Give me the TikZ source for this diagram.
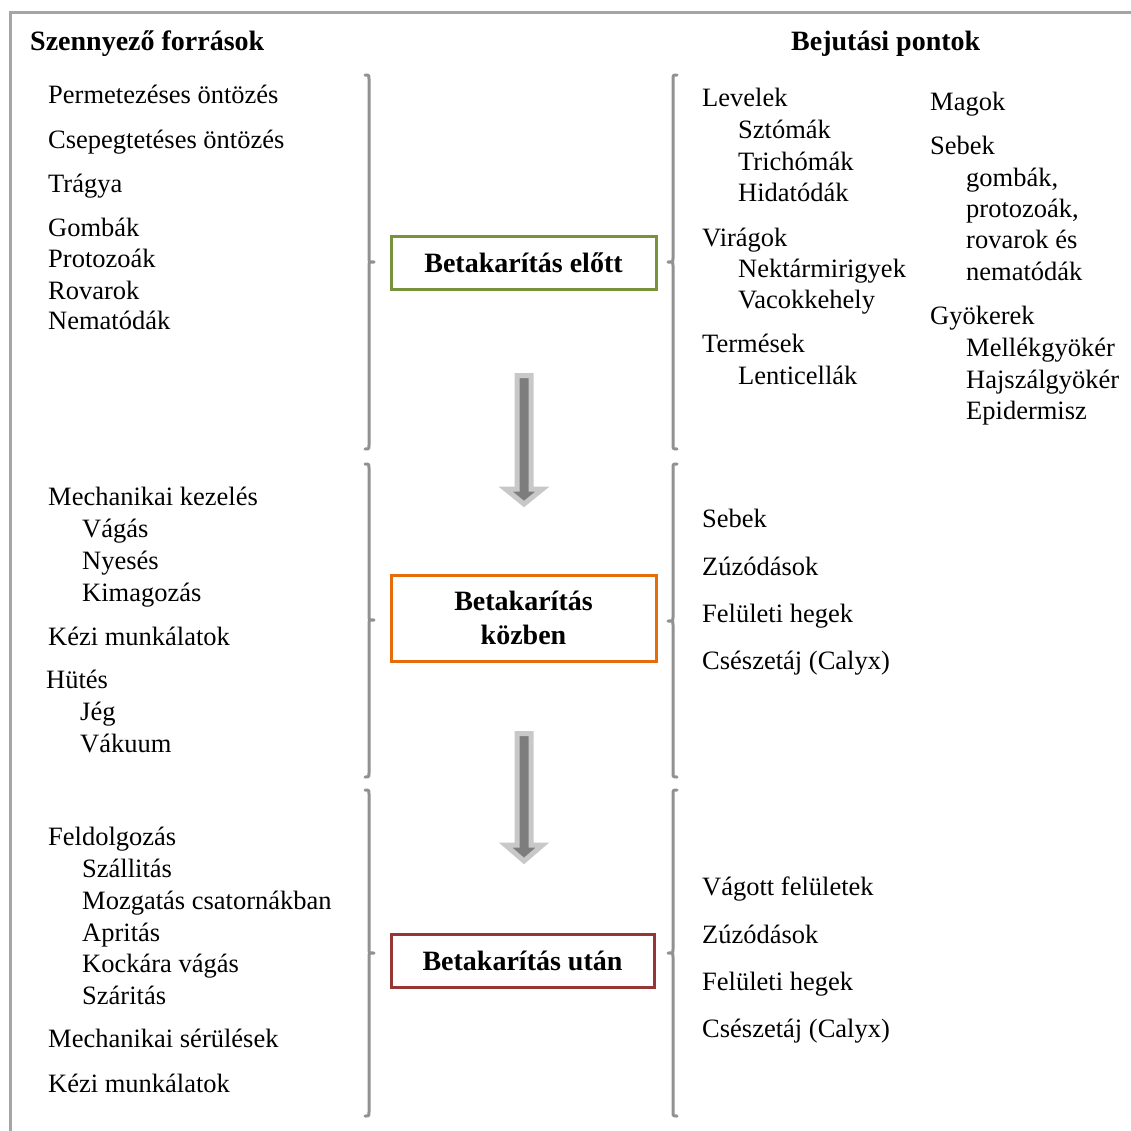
\documentclass[tikz,border=0pt]{standalone}
\usepackage{fontspec}
\setmainfont{Liberation Serif}
\definecolor{stgreen}{RGB}{119,147,60}
\definecolor{storange}{RGB}{228,108,10}
\definecolor{stred}{RGB}{149,55,53}
\definecolor{brgray}{RGB}{145,145,145}
\definecolor{frgray}{RGB}{165,165,165}
\definecolor{ardark}{RGB}{125,125,125}
\definecolor{arlight}{RGB}{200,200,200}
\tikzset{
  txt/.style={anchor=base west, inner sep=0pt, font=\fontsize{26.5}{30}\selectfont},
  hdr/.style={anchor=base west, inner sep=0pt, font=\fontsize{28}{32}\selectfont\bfseries},
  stagebox/.style={draw, line width=3pt, fill=white, align=center, inner sep=0pt,
     font=\fontsize{28}{34}\selectfont\bfseries},
  bracket/.style={draw=brgray, line width=3pt, line cap=round, line join=round},
  blockarrow/.style={fill=ardark, draw=arlight, line width=5pt, line join=miter}
}
\newcommand{\myrbrk}[4]{% x, top, mid, bottom : "}" shape
  \draw[bracket] (#1-4,#2) .. controls (#1,#2) .. (#1,#2+4) -- (#1,#3-4)
     .. controls (#1,#3) .. (#1+5,#3) .. controls (#1,#3) .. (#1,#3+4)
     -- (#1,#4-4) .. controls (#1,#4) .. (#1-4,#4);}
\newcommand{\mylbrk}[4]{% x, top, mid, bottom : "{" shape
  \draw[bracket] (#1+4,#2) .. controls (#1,#2) .. (#1,#2+4) -- (#1,#3-4)
     .. controls (#1,#3) .. (#1-5,#3) .. controls (#1,#3) .. (#1,#3+4)
     -- (#1,#4-4) .. controls (#1,#4) .. (#1+4,#4);}
\newcommand{\mygarrow}[4]{% xc, top, headbase, tip
  \path[blockarrow] (#1-7,#2) -- (#1+7,#2) -- (#1+7,#3) -- (#1+18.5,#3)
     -- (#1,#4) -- (#1-18.5,#3) -- (#1-7,#3) -- cycle;}
\begin{document}
\begin{tikzpicture}[x=1pt,y=-1pt]
\path[use as bounding box] (0,0) rectangle (1131,1130);
\clip (0,0) rectangle (1131,1130);
\fill[white] (0,0) rectangle (1131,1130);
% frame
\draw[frgray, line width=3pt] (1140,12) -- (10,12) -- (10,1140);

% headers
\node[hdr] (h1) at (30,50.5) {Szennyező források};
\node[hdr] (h2) at (791,50.5) {Bejutási pontok};

% left column
\node[txt] (a1) at (48,103.5) {Permetezéses öntözés};
\node[txt] (a2) at (48,148.5) {Csepegtetéses öntözés};
\node[txt] (a3) at (48,192.5) {Trágya};
\node[txt] (a4) at (48,236.5) {Gombák};
\node[txt] (a5) at (48,267.5) {Protozoák};
\node[txt] (a6) at (48,299.5) {Rovarok};
\node[txt] (a7) at (48,329.5) {Nematódák};

\node[txt] (b1) at (48,505.5) {Mechanikai kezelés};
\node[txt] (b2) at (82,537.5) {Vágás};
\node[txt] (b3) at (82,569.5) {Nyesés};
\node[txt] (b4) at (82,601.5) {Kimagozás};
\node[txt] (b5) at (48,645.5) {Kézi munkálatok};
\node[txt] (b6) at (46,688.5) {Hütés};
\node[txt] (b7) at (80,720.5) {Jég};
\node[txt] (b8) at (80,752.5) {Vákuum};

\node[txt] (c1) at (48,845.5) {Feldolgozás};
\node[txt] (c2) at (82,877.5) {Szállitás};
\node[txt] (c3) at (82,909.5) {Mozgatás csatornákban};
\node[txt] (c4) at (82,941.5) {Apritás};
\node[txt] (c5) at (82,972.5) {Kockára vágás};
\node[txt] (c6) at (82,1004.5) {Száritás};
\node[txt] (c7) at (48,1047.5) {Mechanikai sérülések};
\node[txt] (c8) at (48,1092.5) {Kézi munkálatok};

% right column, top
\node[txt] (d1) at (702,106.5) {Levelek};
\node[txt] (d2) at (738,138.5) {Sztómák};
\node[txt] (d3) at (738,170.5) {Trichómák};
\node[txt] (d4) at (738,201.5) {Hidatódák};
\node[txt] (d5) at (702,246.5) {Virágok};
\node[txt] (d6) at (738,277.5) {Nektármirigyek};
\node[txt] (d7) at (738,308.5) {Vacokkehely};
\node[txt] (d8) at (702,352.5) {Termések};
\node[txt] (d9) at (738,384.5) {Lenticellák};

\node[txt] (e1) at (930,110.5) {Magok};
\node[txt] (e2) at (930,154.5) {Sebek};
\node[txt] (e3) at (966,186.5) {gombák,};
\node[txt] (e4) at (966,217.5) {protozoák,};
\node[txt] (e5) at (966,248.5) {rovarok és};
\node[txt] (e6) at (966,280.5) {nematódák};
\node[txt] (e7) at (930,324.5) {Gyökerek};
\node[txt] (e8) at (966,356.5) {Mellékgyökér};
\node[txt] (e9) at (966,388.5) {Hajszálgyökér};
\node[txt] (e10) at (966,419.5) {Epidermisz};

% right column, middle
\node[txt] (f1) at (702,527.5) {Sebek};
\node[txt] (f2) at (702,575.5) {Zúzódások};
\node[txt] (f3) at (702,622.5) {Felületi hegek};
\node[txt] (f4) at (702,669.5) {Csészetáj (Calyx)};

% right column, bottom
\node[txt] (g1) at (702,895.5) {Vágott felületek};
\node[txt] (g2) at (702,943.5) {Zúzódások};
\node[txt] (g3) at (702,990.5) {Felületi hegek};
\node[txt] (g4) at (702,1037.5) {Csészetáj (Calyx)};

% brackets
\myrbrk{369}{75}{262}{449}
\myrbrk{369}{464}{620}{777}
\myrbrk{369}{790}{953}{1116}
\mylbrk{673}{75}{262}{449}
\mylbrk{673}{464}{621}{777}
\mylbrk{673}{790}{953}{1116}

% stage boxes
\node[stagebox, draw=stgreen, minimum width=265pt, minimum height=53pt] (s1) at (523.5,262.5) {Betakarítás előtt};
\node[stagebox, draw=storange, minimum width=265pt, minimum height=86pt] (s2) at (523.5,618) {Betakarítás\\közben};
\node[stagebox, draw=stred, minimum width=263pt, minimum height=53pt] (s3) at (522.5,960.5) {Betakarítás után};

% block arrows
\mygarrow{524}{375.5}{489}{504}
\mygarrow{524}{733.5}{845}{861}
\end{tikzpicture}
\end{document}
